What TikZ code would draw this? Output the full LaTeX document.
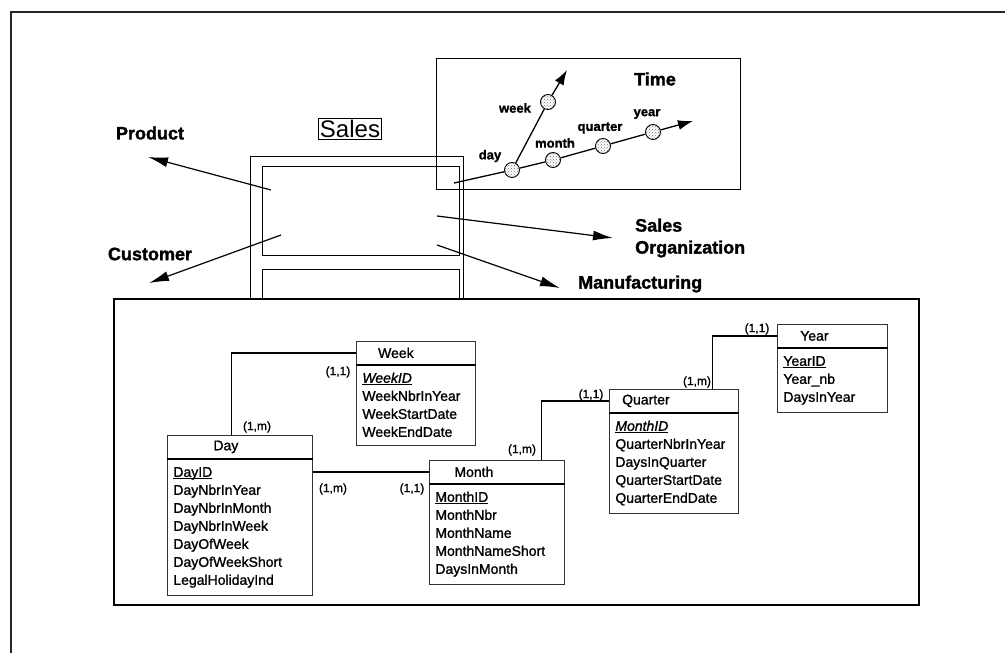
\documentclass[tikz,border=0pt]{standalone}
\usepackage{fontspec}
\setmainfont{Liberation Sans}
\newfontfamily\medfont{Liberation Sans}[RawFeature={embolden=1.2}]
\newfontfamily\heavyfont{Liberation Sans}[BoldFeatures={RawFeature={embolden=1.5}}]
\usetikzlibrary{arrows.meta,positioning,patterns}

\newcommand\attrfont{\medfont\fontsize{14}{18}\selectfont}
\newcommand\cardfont{\medfont\fontsize{12}{14}\selectfont}
\newcommand\dimfont{\heavyfont\fontsize{18}{22}\selectfont\bfseries}
\newcommand\levelfont{\heavyfont\fontsize{13}{15}\selectfont\bfseries}
\newcommand\keyattr[1]{\underline{\smash{#1}\vphantom{A}}}

\tikzset{
  tabhead/.style={draw=black!80, line width=0.8pt, anchor=north west,
    minimum height=23pt, inner sep=0pt},
  tabbody/.style={draw=black!80, line width=0.8pt, align=left, text width=#1,
    inner xsep=6pt, inner ysep=8pt, font=\attrfont},
  tabtitle/.style={font=\attrfont, inner sep=0pt},
  tabsep/.style={line width=1.6pt},
  link/.style={line width=1.2pt},
  card/.style={font=\cardfont, inner sep=1pt},
  dim/.style={font=\dimfont, inner sep=1pt},
  level/.style={font=\levelfont, inner sep=1pt},
  tnode/.style={circle, draw, line width=0.9pt, minimum size=15pt, inner sep=0pt,
    preaction={fill=white}, pattern=crosshatch dots, pattern color=black!55},
  bigarrow/.style={-{Latex[length=20pt,width=10pt]}, line width=1.2pt},
  axis/.style={line width=1.3pt}
}

\begin{document}
\begin{tikzpicture}[x=1pt, y=-1pt]
  \useasboundingbox (0,0) rectangle (1005,653);

  % page frame
  \draw[line width=1.3pt, black!85] (11,653) -- (11,12) -- (1005,12);

  % the Sales cube
  \draw[line width=0.9pt] (250,300) -- (250,156) -- (463,156) -- (463,300);
  \draw[line width=0.9pt] (262,166) rectangle (459,255);
  \draw[line width=0.9pt] (262,300) -- (262,269) -- (459,269) -- (459,300);
  \node[draw, line width=0.8pt, font=\fontsize{24}{28}\selectfont, inner sep=1.5pt]
    (sales) at (350,129) {Sales};

  % dimensions around the cube
  \node[dim] (product) at (150,133) {Product};
  \node[dim] (customer) at (150,254) {Customer};
  \node[dim, anchor=west, align=left] (salesorg) at (634,238) {Sales\\Organization};
  \node[dim, anchor=west] (manuf) at (577,284) {Manufacturing};

  \coordinate (pfrom) at (271,190);  \coordinate (pto) at (148,157);
  \coordinate (cfrom) at (281,235);  \coordinate (cto) at (149,283);
  \coordinate (sfrom) at (437,216);  \coordinate (sto) at (613,238);
  \coordinate (mfrom) at (437,245);  \coordinate (mto) at (560,288);
  \draw[bigarrow] (pfrom) -- (pto);
  \draw[bigarrow] (cfrom) -- (cto);
  \draw[bigarrow] (sfrom) -- (sto);
  \draw[bigarrow] (mfrom) -- (mto);

  % time dimension
  \node[draw, line width=1.2pt, anchor=north west, minimum width=304pt,
    minimum height=131pt, inner sep=0pt] (timebox) at (436,58) {};
  \node[dim] (timet) at (655,79) {Time};

  \coordinate (t0) at (454,183);
  \node[tnode] (tday) at (512,170) {};
  \node[tnode] (tmonth) at (553,160) {};
  \node[tnode] (tquarter) at (603,146) {};
  \node[tnode] (tyear) at (653,132) {};
  \node[tnode] (tweek) at (548,102) {};
  \coordinate (tend) at (693,121);
  \coordinate (wend) at (567,70);

  \draw[axis] (t0) -- (tday) -- (tmonth) -- (tquarter) -- (tyear);
  \draw[axis, -{Latex[length=15pt,width=10pt]}] (tyear) -- (tend);
  \draw[axis] (tday) -- (tweek);
  \draw[axis, -{Latex[length=15pt,width=10pt]}] (tweek) -- (wend);

  \node[level] (lday) at (490,156) {day};
  \node[level] (lweek) at (515,108) {week};
  \node[level] (lmonth) at (555,143) {month};
  \node[level] (lquarter) at (600,128) {quarter};
  \node[level] (lyear) at (647,114) {year};

  % data model
  \draw[line width=1.5pt] (114,299) rectangle (919,605);

  \node[tabhead, minimum width=145pt] (day) at (167,435) {};
  \node[tabtitle] (dayt) at ([xshift=-14pt]day.center) {Day};
  \node[tabbody=133pt, below=0pt of day] (dayb)
    {\keyattr{DayID}\\DayNbrInYear\\DayNbrInMonth\\DayNbrInWeek\\DayOfWeek\\DayOfWeekShort\\LegalHolidayInd};

  \node[tabhead, minimum width=119pt] (week) at (356,341) {};
  \node[tabtitle] (weekt) at ([xshift=-20pt]week.center) {Week};
  \node[tabbody=107pt, below=0pt of week] (weekb)
    {\keyattr{\textit{WeekID}}\\WeekNbrInYear\\WeekStartDate\\WeekEndDate};

  \node[tabhead, minimum width=135pt] (month) at (429,460) {};
  \node[tabtitle] (montht) at ([xshift=-23pt]month.center) {Month};
  \node[tabbody=123pt, below=0pt of month] (monthb)
    {\keyattr{MonthID}\\MonthNbr\\MonthName\\MonthNameShort\\DaysInMonth};

  \node[tabhead, minimum width=129pt] (quarter) at (609,389) {};
  \node[tabtitle] (quartert) at ([xshift=-28pt]quarter.center) {Quarter};
  \node[tabbody=117pt, below=0pt of quarter] (quarterb)
    {\keyattr{\textit{MonthID}}\\QuarterNbrInYear\\DaysInQuarter\\QuarterStartDate\\QuarterEndDate};

  \node[tabhead, minimum width=110pt] (year) at (777,324) {};
  \node[tabtitle] (yeart) at ([xshift=-18pt]year.center) {Year};
  \node[tabbody=98pt, below=0pt of year] (yearb)
    {\keyattr{YearID}\\Year\_nb\\DaysInYear};

  \foreach \t in {day,week,month,quarter,year}
    \draw[tabsep] (\t.south west) -- (\t.south east);

  % relationships
  \draw[link] ([xshift=-8.5pt]day.north) |- (week.west);
  \draw[link] (dayb.east |- month.west) -- (month.west);
  \draw[link] ([xshift=44.5pt]month.north) |- (quarter.west);
  \draw[link] ([xshift=38.5pt]quarter.north) |- (year.west);

  \node[card] (dw1) at (257,427) {(1,m)};
  \node[card] (dw2) at (338,372) {(1,1)};
  \node[card] (dm1) at (333,489) {(1,m)};
  \node[card] (dm2) at (412,489) {(1,1)};
  \node[card] (mq1) at (522,450) {(1,m)};
  \node[card] (mq2) at (591,395) {(1,1)};
  \node[card] (qy1) at (697,382) {(1,m)};
  \node[card] (qy2) at (757,329) {(1,1)};
\end{tikzpicture}
\end{document}
